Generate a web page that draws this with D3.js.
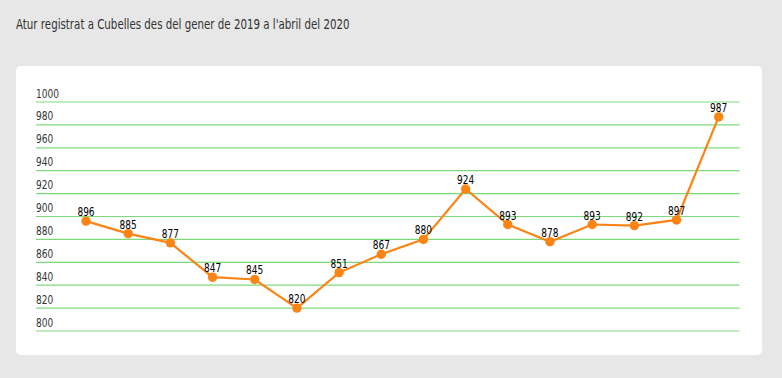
<!DOCTYPE html>
<html>
<head>
<meta charset="utf-8">
<script src="https://cdn.jsdelivr.net/npm/d3@7"></script>
<style>
  body { margin: 0; background: #e6e7e6; }
  svg { display: block; }
</style>
</head>
<body>
<div id="chart"></div>
<script>
// Chart values
const title = "Atur registrat a Cubelles des del gener de 2019 a l'abril del 2020"
const months = ['gen 2019', 'feb 2019', 'mar 2019', 'abr 2019', 'mai 2019', 'jun 2019', 'jul 2019', 'ago 2019',
  'set 2019', 'oct 2019', 'nov 2019', 'des 2019', 'gen 2020', 'feb 2020', 'mar 2020', 'abr 2020']
const unemployed = [896, 885, 877, 847, 845, 820, 851, 867, 880, 924, 893, 878, 893, 892, 897, 987]
const yTicks = [800, 820, 840, 860, 880, 900, 920, 940, 960, 980, 1000]

const width = 782
const height = 378
const font = '"DejaVu Sans", sans-serif'

const svg = d3.select('#chart').append('svg')
  .attr('width', width)
  .attr('height', height)

// helper: squeeze a text horizontally so it looks like a narrow font
function narrow (sel, x, y, sx) {
  sel.attr('transform', `translate(${x},${y}) scale(${sx},1)`)
}

// Title
const titleText = svg.append('text')
  .style('font-family', font)
  .style('font-size', '14.5px')
  .style('fill', '#333')
  .text(title)
narrow(titleText, 16, 29, 334 / titleText.node().getComputedTextLength())

// White card
svg.append('rect')
  .attr('x', 16)
  .attr('y', 66)
  .attr('width', 746)
  .attr('height', 289)
  .attr('rx', 5)
  .attr('fill', '#fff')

// Scales
const xScale = d3.scalePoint()
  .domain(months)
  .range([86, 718.7])

const yScale = d3.scaleLinear()
  .domain([800, 1000])
  .range([331, 102])

// measure digit squeeze: "1000" is ~23px wide in the reference
const probe = svg.append('text')
  .style('font-family', font)
  .style('font-size', '12.5px')
  .text('1000')
const numScale = 23 / probe.node().getComputedTextLength()
probe.remove()

// Gridlines and tick labels
const grid = svg.append('g').attr('class', 'grid')
yTicks.forEach(t => {
  grid.append('line')
    .attr('x1', 36)
    .attr('x2', 739.5)
    .attr('y1', yScale(t))
    .attr('y2', yScale(t))
    .attr('stroke', '#7fd97b')
    .attr('stroke-width', 1.2)
  const label = grid.append('text')
    .style('font-family', font)
    .style('font-size', '12.5px')
    .style('fill', '#333')
    .text(t)
  narrow(label, 36, yScale(t) - 4.5, numScale)
})

// Line
const line = d3.line()
  .x((d, i) => xScale(months[i]))
  .y(d => yScale(d))

svg.append('path')
  .datum(unemployed)
  .attr('d', line)
  .attr('fill', 'none')
  .attr('stroke', '#fb8414')
  .attr('stroke-width', 2.2)

// Points
svg.selectAll('.dot')
  .data(unemployed)
  .join('circle')
  .attr('class', 'dot')
  .attr('cx', (d, i) => xScale(months[i]))
  .attr('cy', d => yScale(d))
  .attr('r', 4.7)
  .attr('fill', '#fb8414')

// Value labels
svg.selectAll('.label')
  .data(unemployed)
  .join('text')
  .attr('class', 'label')
  .attr('text-anchor', 'middle')
  .attr('transform', (d, i) => `translate(${xScale(months[i])},${yScale(d) - 5}) scale(${numScale},1)`)
  .style('font-family', font)
  .style('font-size', '12.5px')
  .style('fill', '#000')
  .text(d => d)
</script>
</body>
</html>
